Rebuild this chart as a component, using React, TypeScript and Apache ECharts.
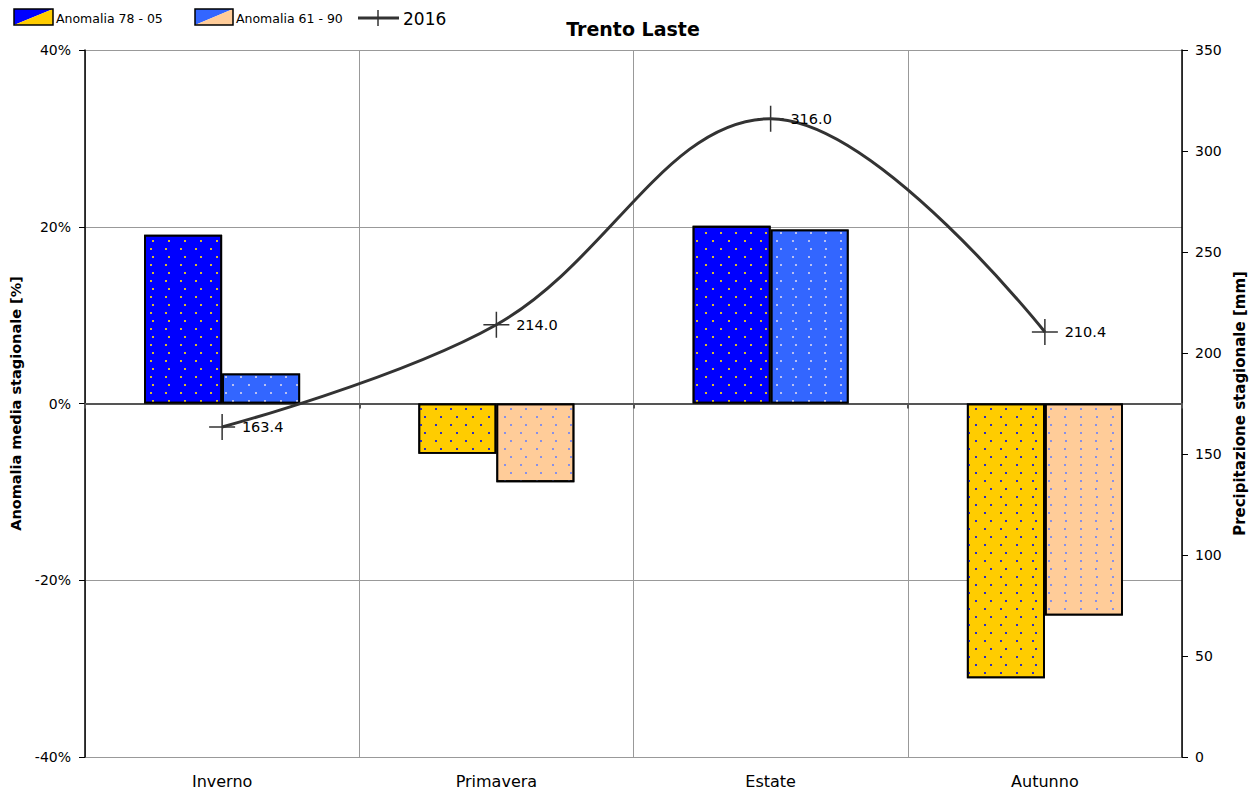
import React, { useEffect, useRef } from "react";
import * as echarts from "echarts";

const categories = ["Inverno", "Primavera", "Estate", "Autunno"];
const anomalia7805 = [19.1, -5.7, 20.1, -31.1];
const anomalia6190 = [3.4, -8.9, 19.7, -24.0];
const prec2016 = [163.4, 214.0, 316.0, 210.4];

const FONT = "DejaVu Sans";

const decal = (color: string) => ({
  symbol: "rect",
  symbolSize: 1,
  color,
  dashArrayX: [[2, 13], [0, 7.5, 2, 5.5]],
  dashArrayY: [2, 5.7],
  rotation: 0,
});

const barItem = (v: number, pos: string, neg: string, dotPos: string, dotNeg: string) => ({
  value: v,
  itemStyle: {
    color: v >= 0 ? pos : neg,
    decal: decal(v >= 0 ? dotPos : dotNeg),
  },
});

export default function App() {
  const ref = useRef<HTMLDivElement>(null);
  useEffect(() => {
    const chart = echarts.init(ref.current!, null, { renderer: "svg" });
    const barStyle = {
      borderColor: "#000",
      borderWidth: 1.8,
    };
    chart.setOption({
      animation: false,
      textStyle: { fontFamily: FONT },
      title: {
        text: "Trento Laste",
        left: 628,
        textAlign: "center",
        top: 14,
        textStyle: { fontFamily: FONT, fontSize: 19, fontWeight: "bold", color: "#000" },
      },
      grid: { left: 85, right: 75, top: 50, bottom: 36 },
      xAxis: [
        {
          type: "category",
          data: categories,
          position: "bottom",
          axisLine: { onZero: true, onZeroAxisIndex: 0, lineStyle: { color: "#555", width: 2 } },
          axisTick: { show: true, length: 5, lineStyle: { color: "#555", width: 2 } },
          axisLabel: { show: false },
          splitLine: { show: true, lineStyle: { color: "#999", width: 1 } },
        },
        {
          type: "category",
          data: categories,
          position: "bottom",
          axisLine: { show: false, onZero: false },
          axisTick: { show: false },
          axisLabel: { show: true, margin: 16, fontSize: 16, color: "#000", fontFamily: FONT },
          splitLine: { show: false },
        },
      ],
      yAxis: [
        {
          type: "value",
          min: -40,
          max: 40,
          interval: 20,
          position: "left",
          name: "Anomalia media stagionale [%]",
          nameLocation: "middle",
          nameRotate: 90,
          nameGap: 60,
          nameTextStyle: { fontFamily: FONT, fontSize: 14.5, fontWeight: "bold", color: "#000" },
          axisLine: { show: true, lineStyle: { color: "#000", width: 1.5 } },
          axisTick: { show: true, length: 6, lineStyle: { color: "#000" } },
          axisLabel: { margin: 14, fontSize: 14, color: "#000", fontFamily: FONT, formatter: (v: number) => `${v}%` },
          splitLine: { show: true, lineStyle: { color: "#999", width: 1 } },
        },
        {
          type: "value",
          min: 0,
          max: 350,
          interval: 50,
          position: "right",
          name: "Precipitazione stagionale [mm]",
          nameLocation: "middle",
          nameRotate: 90,
          nameGap: 50,
          nameTextStyle: { fontFamily: FONT, fontSize: 15, fontWeight: "bold", color: "#000" },
          axisLine: { show: true, lineStyle: { color: "#000", width: 1.5 } },
          axisTick: { show: true, length: 6, lineStyle: { color: "#000" } },
          axisLabel: { margin: 13, fontSize: 14, color: "#000", fontFamily: FONT },
          splitLine: { show: false },
        },
      ],
      series: [
        {
          name: "Anomalia 78 - 05",
          type: "bar",
          xAxisIndex: 0,
          yAxisIndex: 0,
          barWidth: 78,
          barGap: "0%",
          itemStyle: barStyle,
          data: anomalia7805.map((v) => barItem(v, "#0000FF", "#FFCC00", "#D8B830", "#3030C0")),
        },
        {
          name: "Anomalia 61 - 90",
          type: "bar",
          xAxisIndex: 0,
          yAxisIndex: 0,
          barWidth: 78,
          barGap: "0%",
          itemStyle: barStyle,
          data: anomalia6190.map((v) => barItem(v, "#3366FF", "#FFCC99", "#B8C0F0", "#8890E8")),
        },
        {
          name: "2016",
          type: "line",
          xAxisIndex: 0,
          yAxisIndex: 1,
          data: prec2016,
          smooth: 0.38,
          symbol: "path://M12,0L12,24M0,12L24,12",
          symbolSize: 26,
          symbolKeepAspect: true,
          lineStyle: { color: "#333", width: 3 },
          itemStyle: { color: "#333", borderColor: "#333", borderWidth: 1.5 },
          label: {
            show: true,
            position: "right",
            distance: 6,
            fontSize: 14.5,
            color: "#000",
            fontFamily: FONT,
            formatter: (p: any) => Number(p.value).toFixed(1),
          },
          z: 5,
        },
      ],
      graphic: [
        { type: "polygon", shape: { points: [[14, 9], [53, 9], [14, 25]] }, style: { fill: "#0000FF" } },
        { type: "polygon", shape: { points: [[53, 9], [53, 25], [14, 25]] }, style: { fill: "#FFCC00" } },
        { type: "rect", shape: { x: 14, y: 9, width: 39, height: 16 }, style: { fill: "none", stroke: "#000", lineWidth: 1.5 } },
        { type: "text", x: 56, y: 18, style: { text: "Anomalia 78 - 05", fontSize: 12.5, fontFamily: FONT, fill: "#000", verticalAlign: "middle" } },
        { type: "polygon", shape: { points: [[195, 9], [233, 9], [195, 25]] }, style: { fill: "#3366FF" } },
        { type: "polygon", shape: { points: [[233, 9], [233, 25], [195, 25]] }, style: { fill: "#FFCC99" } },
        { type: "rect", shape: { x: 195, y: 9, width: 38, height: 16 }, style: { fill: "none", stroke: "#000", lineWidth: 1.5 } },
        { type: "text", x: 236, y: 18, style: { text: "Anomalia 61 - 90", fontSize: 12.5, fontFamily: FONT, fill: "#000", verticalAlign: "middle" } },
        { type: "line", shape: { x1: 358, y1: 18, x2: 399, y2: 18 }, style: { stroke: "#333", lineWidth: 3 } },
        { type: "line", shape: { x1: 378, y1: 10, x2: 378, y2: 26 }, style: { stroke: "#333", lineWidth: 1.5 } },
        { type: "text", x: 403, y: 19, style: { text: "2016", fontSize: 17, fontFamily: FONT, fill: "#000", verticalAlign: "middle" } },
      ],
    });
    return () => chart.dispose();
  }, []);
  return <div ref={ref} style={{ width: 1257, height: 793, position: "absolute", left: 0, top: 0 }} />;
}
